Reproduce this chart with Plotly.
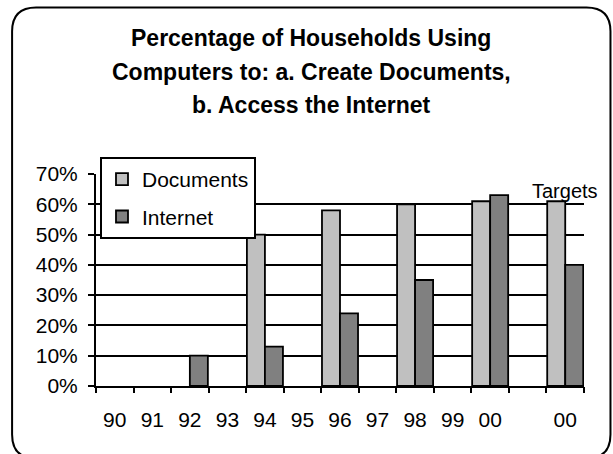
import plotly.graph_objects as go

# ---- data ----
year_labels = ["90", "91", "92", "93", "94", "95", "96", "97", "98", "99", "00", "", "00"]
documents = [None, None, None, None, 50, None, 58, None, 60, None, 61, None, 61]
internet = [None, None, 10, None, 13, None, 24, None, 35, None, 63, None, 40]
y_ticks = [0, 10, 20, 30, 40, 50, 60, 70]
title_lines = ["Percentage of Households Using",
               "Computers to: a. Create Documents,",
               "b. Access the Internet"]

W, H = 613, 454
L, R, T, B = 96, 584.5, 174, 386.5


def px(x):
    return (x - L) / (R - L)


def py(y):
    return (B - y) / (B - T)


xs = list(range(len(year_labels)))
FONT = "Arial, Liberation Sans, sans-serif"

fig = go.Figure()
fig.add_trace(go.Bar(x=xs, y=documents, name="Documents", legendgroup="d",
                     marker=dict(color="#C0C0C0", line=dict(color="black", width=1.8))))
fig.add_trace(go.Bar(x=xs, y=internet, name="Internet", legendgroup="i",
                     marker=dict(color="#808080", line=dict(color="black", width=1.8))))
# invisible trace to carry boundary tick marks
fig.add_trace(go.Scatter(x=[-0.5, 12.5], y=[0, 0], xaxis="x2", mode="lines",
                         line=dict(width=0), showlegend=False, hoverinfo="skip"))

# rounded border
x0, x1, y0, y1, r = 12, 611, 7, 459, 24


def P(x, y):
    return f"{px(x):.5f},{py(y):.5f}"


path = (f"M {P(x0 + r, y0)} L {P(x1 - r, y0)} Q {P(x1, y0)} {P(x1, y0 + r)} "
        f"L {P(x1, y1 - r)} Q {P(x1, y1)} {P(x1 - r, y1)} "
        f"L {P(x0 + r, y1)} Q {P(x0, y1)} {P(x0, y1 - r)} "
        f"L {P(x0, y0 + r)} Q {P(x0, y0)} {P(x0 + r, y0)} Z")

annotations = []
for i, (line, yy) in enumerate(zip(title_lines, [38, 72, 105])):
    annotations.append(dict(text=line, x=px(311.5), y=py(yy), xref="paper", yref="paper",
                            xanchor="center", yanchor="middle", showarrow=False,
                            font=dict(family=FONT, size=23, color="black", weight="bold")))
annotations.append(dict(text="Targets", x=12, y=64.5, xref="x", yref="y",
                        xanchor="center", yanchor="middle", showarrow=False,
                        font=dict(family=FONT, size=20, color="black")))

fig.update_layout(
    width=W, height=H,
    margin=dict(l=L, r=W - R, t=T, b=H - B, pad=0),
    paper_bgcolor="white", plot_bgcolor="white",
    font=dict(family=FONT, size=21, color="black"),
    barmode="group", bargap=0.04, bargroupgap=0,
    shapes=[dict(type="path", path=path, xref="paper", yref="paper",
                 line=dict(color="black", width=2), layer="above")],
    annotations=annotations,
    legend=dict(x=px(100), y=py(157), xanchor="left", yanchor="top",
                bgcolor="white", bordercolor="black", borderwidth=2,
                font=dict(size=21), traceorder="grouped", tracegroupgap=7,
                itemwidth=30),
    xaxis=dict(range=[-0.5, 12.5], tickmode="array", tickvals=xs, ticktext=year_labels,
               ticks="", showgrid=False, zeroline=False, showline=True,
               linecolor="black", linewidth=2, ticklabelstandoff=14,
               tickfont=dict(size=21)),
    xaxis2=dict(range=[-0.5, 12.5], overlaying="x", side="bottom", anchor="y",
                tickmode="array", tickvals=[v - 0.5 for v in range(14)],
                ticks="outside", ticklen=6, tickwidth=2, tickcolor="black",
                showticklabels=False, showgrid=False, zeroline=False, showline=False),
    yaxis=dict(range=[0, 70], tickmode="array", tickvals=y_ticks,
               ticktext=[f"{v}%" for v in y_ticks],
               ticks="outside", ticklen=6, tickwidth=2, tickcolor="black",
               showgrid=True, gridcolor="black", gridwidth=2, zeroline=False,
               showline=True, linecolor="black", linewidth=2,
               ticklabelstandoff=6, tickfont=dict(size=21)),
)

fig.write_html("out.html")
